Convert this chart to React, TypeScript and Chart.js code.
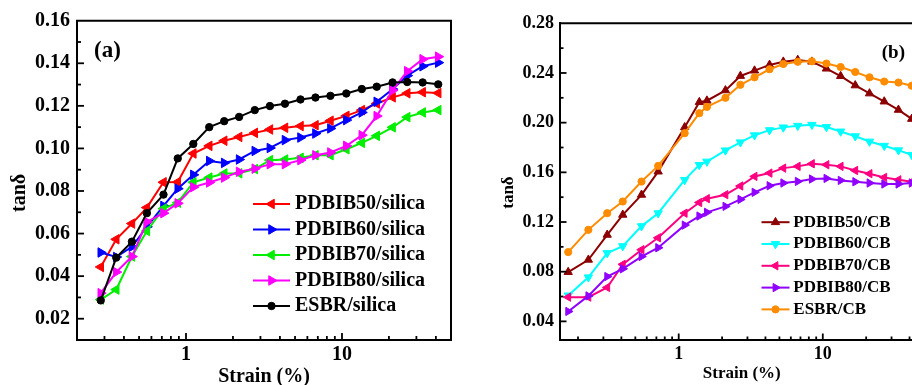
import React, { useEffect, useRef } from 'react';
import { Chart, registerables } from 'chart.js';
import { drawPoint } from 'chart.js/helpers';

Chart.register(...registerables);

const FONT = '"Liberation Serif", "Times New Roman", serif';

// ---------- Panel (a): silica ----------
const strainA = [0.284, 0.357, 0.45, 0.561, 0.717, 0.885, 1.114, 1.409, 1.757, 2.19, 2.76, 3.45, 4.31, 5.42, 6.76, 8.43, 10.66, 13.4, 16.7, 21.1, 26.2, 32.9, 41.4];
const labelsA = ['PDBIB50/silica', 'PDBIB60/silica', 'PDBIB70/silica', 'PDBIB80/silica', 'ESBR/silica'];
const pdbib50Silica = [0.0443, 0.0573, 0.0647, 0.0722, 0.0841, 0.0842, 0.0976, 0.1012, 0.1036, 0.1054, 0.1073, 0.1089, 0.1097, 0.1105, 0.1109, 0.113, 0.1153, 0.118, 0.1211, 0.124, 0.1259, 0.1264, 0.126];
const pdbib60Silica = [0.0511, 0.049, 0.0538, 0.0632, 0.073, 0.0811, 0.0876, 0.0941, 0.0932, 0.0948, 0.0988, 0.1002, 0.1039, 0.1051, 0.107, 0.1094, 0.1133, 0.1169, 0.1219, 0.1278, 0.1342, 0.1386, 0.1403];
const pdbib70Silica = [0.029, 0.0337, 0.0492, 0.0612, 0.0717, 0.0745, 0.0841, 0.0863, 0.0882, 0.0883, 0.0903, 0.0945, 0.0948, 0.0956, 0.0968, 0.0968, 0.0996, 0.1026, 0.1059, 0.1099, 0.1147, 0.1169, 0.118];
const pdbib80Silica = [0.032, 0.0419, 0.0492, 0.0655, 0.0696, 0.0742, 0.0818, 0.084, 0.0863, 0.089, 0.0905, 0.0926, 0.0926, 0.0945, 0.0968, 0.0981, 0.1012, 0.1062, 0.1152, 0.1273, 0.1363, 0.1419, 0.1431];
const esbrSilica = [0.0286, 0.0487, 0.0562, 0.0696, 0.0783, 0.0953, 0.1021, 0.11, 0.1128, 0.1148, 0.118, 0.1199, 0.121, 0.123, 0.1239, 0.1247, 0.1258, 0.1279, 0.129, 0.131, 0.1312, 0.131, 0.1301];
const yTicksA = [0.02, 0.04, 0.06, 0.08, 0.1, 0.12, 0.14, 0.16];
const yMinorA = [0.03, 0.05, 0.07, 0.09, 0.11, 0.13, 0.15];

// ---------- Panel (b): carbon black ----------
const strainB = [0.171, 0.236, 0.319, 0.409, 0.552, 0.72, 1.1, 1.39, 1.57, 2.11, 2.68, 3.36, 4.27, 5.32, 6.7, 8.4, 10.6, 13.3, 16.8, 21.1, 26.7, 33.5, 41.4];
const labelsB = ['PDBIB50/CB', 'PDBIB60/CB', 'PDBIB70/CB', 'PDBIB80/CB', 'ESBR/CB'];
const pdbib50CB = [0.0797, 0.0896, 0.1097, 0.1258, 0.1419, 0.1606, 0.1963, 0.2165, 0.2177, 0.226, 0.2376, 0.2419, 0.2465, 0.2491, 0.2505, 0.2491, 0.2435, 0.2375, 0.23, 0.2235, 0.217, 0.2103, 0.203];
const pdbib60CB = [0.0609, 0.0755, 0.095, 0.1006, 0.1167, 0.1271, 0.1539, 0.166, 0.1687, 0.1777, 0.1842, 0.1899, 0.194, 0.1962, 0.1975, 0.1983, 0.1965, 0.1929, 0.1891, 0.1848, 0.1814, 0.1778, 0.1741];
const pdbib70CB = [0.0595, 0.0595, 0.0673, 0.0859, 0.0977, 0.1073, 0.1271, 0.1357, 0.1388, 0.142, 0.149, 0.1567, 0.1594, 0.1634, 0.1648, 0.1669, 0.1661, 0.1648, 0.1615, 0.1589, 0.1559, 0.154, 0.1524];
const pdbib80CB = [0.048, 0.0605, 0.0761, 0.0823, 0.0922, 0.0993, 0.1175, 0.1248, 0.1278, 0.1326, 0.1382, 0.1439, 0.1492, 0.1514, 0.1527, 0.1546, 0.1551, 0.1535, 0.1524, 0.1514, 0.1506, 0.1506, 0.1514];
const esbrCB = [0.0958, 0.1137, 0.1271, 0.1365, 0.1526, 0.1652, 0.1915, 0.2076, 0.2127, 0.22, 0.2305, 0.2365, 0.243, 0.2472, 0.249, 0.2494, 0.2476, 0.2448, 0.2408, 0.2365, 0.2331, 0.2323, 0.2297];
const yTicksB = [0.04, 0.08, 0.12, 0.16, 0.2, 0.24, 0.28];
const yMinorB = [0.06, 0.1, 0.14, 0.18, 0.22, 0.26];

// shared x ticks (log axis)
const xMajor = [1, 10];
const xMinor = [0.2, 0.3, 0.4, 0.5, 0.6, 0.7, 0.8, 0.9, 2, 3, 4, 5, 6, 7, 8, 9, 20, 30, 40, 50];

type SeriesStyle = { color: string; pointStyle: string; rotation: number; radius: number };

const stylesA: SeriesStyle[] = [
  { color: '#FF0000', pointStyle: 'triangle', rotation: 270, radius: 5.5 },
  { color: '#0000FF', pointStyle: 'triangle', rotation: 90, radius: 5.5 },
  { color: '#00EE00', pointStyle: 'triangle', rotation: 270, radius: 5.5 },
  { color: '#FF00FF', pointStyle: 'triangle', rotation: 90, radius: 5.5 },
  { color: '#000000', pointStyle: 'circle', rotation: 0, radius: 3.7 },
];
const stylesB: SeriesStyle[] = [
  { color: '#8B0000', pointStyle: 'triangle', rotation: 0, radius: 4.8 },
  { color: '#00FFFF', pointStyle: 'triangle', rotation: 180, radius: 4.8 },
  { color: '#FF0080', pointStyle: 'triangle', rotation: 270, radius: 4.8 },
  { color: '#8F00FF', pointStyle: 'triangle', rotation: 90, radius: 4.8 },
  { color: '#FF8C00', pointStyle: 'circle', rotation: 0, radius: 3.6 },
];

function buildDatasets(strain: number[], labels: string[], series: number[][], styles: SeriesStyle[]) {
  return series.map((vals, i) => ({
    label: labels[i],
    data: strain.map((x, j) => ({ x, y: vals[j] })),
    borderColor: styles[i].color,
    backgroundColor: styles[i].color,
    pointBackgroundColor: styles[i].color,
    pointBorderColor: styles[i].color,
    pointStyle: styles[i].pointStyle,
    pointRotation: styles[i].rotation,
    pointRadius: styles[i].radius,
    pointBorderWidth: 1,
    borderWidth: 2,
    tension: 0,
    order: series.length - 1 - i,
  }));
}

const decorPlugin = {
  id: 'decor',
  afterDraw(chart: any, _args: any, o: any) {
    const { ctx, chartArea: ca } = chart;
    const xs = chart.scales.x;
    const ys = chart.scales.y;
    ctx.save();
    // top & right frame
    ctx.strokeStyle = '#000';
    ctx.lineWidth = 2;
    ctx.lineCap = 'square';
    ctx.beginPath();
    ctx.moveTo(ca.left, ca.top);
    ctx.lineTo(ca.right, ca.top);
    ctx.lineTo(ca.right, ca.bottom);
    ctx.stroke();
    ctx.lineCap = 'butt';
    // inward ticks
    const xTick = (vals: number[], len: number) => {
      vals.forEach((v) => {
        if (v <= xs.min || v >= xs.max) return;
        const px = xs.getPixelForValue(v);
        ctx.beginPath();
        ctx.moveTo(px, ca.bottom);
        ctx.lineTo(px, ca.bottom - len);
        ctx.stroke();
      });
    };
    const yTick = (vals: number[], len: number) => {
      vals.forEach((v) => {
        if (v <= ys.min || v >= ys.max) return;
        const py = ys.getPixelForValue(v);
        ctx.beginPath();
        ctx.moveTo(ca.left, py);
        ctx.lineTo(ca.left + len, py);
        ctx.stroke();
      });
    };
    ctx.lineWidth = 1.8;
    xTick(xMajor, o.majorLen);
    xTick(xMinor, o.minorLen);
    yTick(o.yMajor, o.majorLen);
    yTick(o.yMinor, o.minorLen);

    ctx.fillStyle = '#000';
    // y-axis title
    ctx.save();
    ctx.font = `bold ${o.yTitle.size}px ${FONT}`;
    ctx.translate(ca.left + o.yTitle.dx, (ca.top + ca.bottom) / 2 + o.yTitle.dy);
    ctx.rotate(-Math.PI / 2);
    ctx.textAlign = 'center';
    ctx.textBaseline = 'alphabetic';
    ctx.fillText(o.yTitle.text, 0, 0);
    ctx.restore();

    // panel label
    ctx.font = `bold ${o.panel.size}px ${FONT}`;
    ctx.textBaseline = 'alphabetic';
    ctx.textAlign = o.panel.align;
    const px = o.panel.align === 'left' ? ca.left + o.panel.dx : ca.right - o.panel.dx;
    ctx.fillText(o.panel.text, px, ca.top + o.panel.dy);

    // legend (line + marker + label)
    const lg = o.legend;
    ctx.font = `bold ${lg.size}px ${FONT}`;
    ctx.textAlign = 'left';
    ctx.textBaseline = 'middle';
    chart.data.datasets.forEach((ds: any, i: number) => {
      const y = ca.top + lg.dy + i * lg.spacing;
      const x0 = ca.left + lg.dx;
      ctx.strokeStyle = ds.borderColor;
      ctx.fillStyle = ds.borderColor;
      ctx.lineWidth = ds.borderWidth;
      ctx.beginPath();
      ctx.moveTo(x0, y);
      ctx.lineTo(x0 + lg.lineLen, y);
      ctx.stroke();
      ctx.lineWidth = ds.pointBorderWidth;
      drawPoint(ctx, { pointStyle: ds.pointStyle, rotation: ds.pointRotation, radius: ds.pointRadius, borderWidth: ds.pointBorderWidth }, x0 + lg.lineLen / 2, y);
      ctx.fillStyle = '#000';
      ctx.fillText(ds.label, ca.left + lg.textDx, y);
    });
    ctx.restore();
  },
};

function makeConfig(p: any) {
  const tickFont = { family: FONT, size: p.tickSize, weight: 'bold' as const };
  return {
    type: 'line' as const,
    data: { datasets: p.datasets },
    options: {
      animation: false as const,
      responsive: false,
      events: [],
      layout: { padding: p.padding },
      plugins: {
        legend: { display: false },
        tooltip: { enabled: false },
        decor: p.decor,
      },
      scales: {
        x: {
          type: 'logarithmic' as const,
          min: p.xMin,
          max: p.xMax,
          afterFit: (s: any) => { s.height = p.xHeight; },
          afterBuildTicks: (s: any) => { s.ticks = xMajor.map((v) => ({ value: v })); },
          ticks: {
            callback: (v: any) => String(v),
            font: tickFont,
            color: '#000',
            padding: p.xTickPad,
            autoSkip: false,
            maxRotation: 0,
          },
          grid: { display: false, drawTicks: false },
          border: { display: true, color: '#000', width: 2 },
          title: {
            display: true,
            text: 'Strain (%)',
            color: '#000',
            font: { family: FONT, size: p.xTitleSize, weight: 'bold' as const },
            padding: { top: 0, bottom: p.xTitlePad },
          },
        },
        y: {
          type: 'linear' as const,
          min: p.yMin,
          max: p.yMax,
          afterFit: (s: any) => { s.width = p.yWidth; },
          afterBuildTicks: (s: any) => { s.ticks = p.yTicks.map((v: number) => ({ value: v })); },
          ticks: {
            callback: (v: any) => Number(v).toFixed(2),
            font: tickFont,
            color: '#000',
            padding: p.yTickPad,
            autoSkip: false,
          },
          grid: { display: false, drawTicks: false },
          border: { display: true, color: '#000', width: 2 },
        },
      },
    },
    plugins: [decorPlugin],
  };
}

function ChartCanvas({ makeCfg, left, width, height }: { makeCfg: () => any; left: number; width: number; height: number }) {
  const ref = useRef<HTMLCanvasElement>(null);
  useEffect(() => {
    const chart = new Chart(ref.current as HTMLCanvasElement, makeCfg());
    return () => chart.destroy();
  }, []);
  return (
    <canvas
      ref={ref}
      width={width}
      height={height}
      style={{ position: 'absolute', left, top: 0, width, height, display: 'block' }}
    />
  );
}

const cfgA = () =>
  makeConfig({
    datasets: buildDatasets(strainA, labelsA, [pdbib50Silica, pdbib60Silica, pdbib70Silica, pdbib80Silica, esbrSilica], stylesA),
    padding: { left: 0, top: 20.7, right: 9, bottom: 0 },
    xMin: 0.2, xMax: 50, xHeight: 60, xTickPad: 3, xTitleSize: 20, xTitlePad: 11.5,
    yMin: 0.01, yMax: 0.16, yWidth: 77, yTickPad: 7, yTicks: yTicksA,
    tickSize: 20,
    decor: {
      majorLen: 7, minorLen: 4, yMajor: yTicksA, yMinor: yMinorA,
      yTitle: { text: 'tanδ', size: 20, dx: -52, dy: 12.5 },
      panel: { text: '(a)', size: 23, align: 'left', dx: 17, dy: 36.5 },
      legend: { size: 20, dx: 176, lineLen: 37, textDx: 218, dy: 183.3, spacing: 25.5 },
    },
  });

const cfgB = () =>
  makeConfig({
    datasets: buildDatasets(strainB, labelsB, [pdbib50CB, pdbib60CB, pdbib70CB, pdbib80CB, esbrCB], stylesB),
    padding: { left: 0, top: 23.3, right: 16.5, bottom: 0 },
    xMin: 0.15, xMax: 50, xHeight: 60, xTickPad: 4, xTitleSize: 17, xTitlePad: 16,
    yMin: 0.025, yMax: 0.28, yWidth: 100, yTickPad: 6, yTicks: yTicksB,
    tickSize: 18,
    decor: {
      majorLen: 6.5, minorLen: 3.5, yMajor: yTicksB, yMinor: yMinorB,
      yTitle: { text: 'tanδ', size: 17, dx: -46.7, dy: 10.9 },
      panel: { text: '(b)', size: 19, align: 'right', dx: 18.5, dy: 34.7 },
      legend: { size: 17, dx: 201.5, lineLen: 28, textDx: 233.3, dy: 198.9, spacing: 21.8 },
    },
  });

export default function App() {
  return (
    <div style={{ position: 'absolute', left: 0, top: 0, width: 912, height: 385, overflow: 'hidden', background: '#fff' }}>
      <ChartCanvas makeCfg={cfgA} left={0} width={460} height={400} />
      <ChartCanvas makeCfg={cfgB} left={460} width={480} height={400} />
    </div>
  );
}
